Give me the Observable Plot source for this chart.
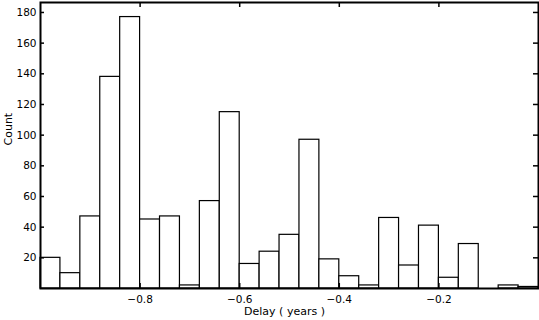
<!DOCTYPE html>
<html>
<head>
<meta charset="utf-8">
<script src="https://cdn.jsdelivr.net/npm/d3@7"></script>
<script src="https://cdn.jsdelivr.net/npm/@observablehq/plot@0.6"></script>
<style>
  html, body { margin: 0; padding: 0; background: #fff; }
  #chart svg { display: block; }
</style>
</head>
<body>
<div id="chart"></div>
<script>
// Histogram bin edges (years) and counts
const binEdges = [-1.00, -0.96, -0.92, -0.88, -0.84, -0.80, -0.76, -0.72, -0.68, -0.64,
                  -0.60, -0.56, -0.52, -0.48, -0.44, -0.40, -0.36, -0.32, -0.28, -0.24,
                  -0.20, -0.16, -0.12, -0.08, -0.04, 0.00];
const counts = [20, 10, 47, 138, 177, 45, 47, 2, 57, 115,
                16, 24, 35, 97, 19, 8, 2, 46, 15, 41,
                7, 29, 0, 2, 1];
const xTicks = [-0.8, -0.6, -0.4, -0.2];
const yTicks = [20, 40, 60, 80, 100, 120, 140, 160, 180];
const xLabel = "Delay ( years )";
const yLabel = "Count";

const bins = counts.map((c, i) => ({x1: binEdges[i], x2: binEdges[i + 1], count: c}));

const W = 539, H = 320;
const mL = 40, mR = 1, mT = 2, mB = 32;
const innerW = W - mL - mR, innerH = H - mT - mB;

const chart = Plot.plot({
  width: W,
  height: H,
  marginLeft: mL,
  marginRight: mR,
  marginTop: mT,
  marginBottom: mB,
  style: {fontFamily: "'DejaVu Sans', sans-serif", fontSize: "10.5px", color: "#000", background: "#fff"},
  x: {domain: [-1, 0]},
  y: {domain: [0, 186.5]},
  marks: [
    Plot.rect(bins.filter(d => d.count > 0), {x1: "x1", x2: "x2", y1: 0, y2: "count", fill: "white", stroke: "black", strokeWidth: 1.2}),
    // inward ticks
    Plot.tickX(xTicks, {x: d => d, insetTop: innerH - 5, stroke: "black", strokeWidth: 1.5}),
    Plot.tickX(xTicks, {x: d => d, insetBottom: innerH - 5, stroke: "black", strokeWidth: 1.5}),
    Plot.tickY(yTicks, {y: d => d, insetRight: innerW - 4, stroke: "black", strokeWidth: 1.5}),
    Plot.tickY(yTicks, {y: d => d, insetLeft: innerW - 5, stroke: "black", strokeWidth: 1.5}),
    Plot.axisX({ticks: xTicks, tickSize: 0, tickPadding: 7, label: null, tickFormat: d => d3.format(".1f")(d).replace("-", "\u2212")}),
    Plot.axisY({ticks: yTicks, tickSize: 0, tickPadding: 4, label: null}),
    Plot.text([xLabel], {frameAnchor: "bottom", dy: 23, dx: -5, text: d => d, lineAnchor: "middle", fontSize: 11}),
    Plot.text([yLabel], {frameAnchor: "left", dx: -32, rotate: -90, text: d => d, fontSize: 11}),
    Plot.frame({stroke: "black", strokeWidth: 2})
  ]
});
document.getElementById("chart").appendChild(chart);
</script>
</body>
</html>
